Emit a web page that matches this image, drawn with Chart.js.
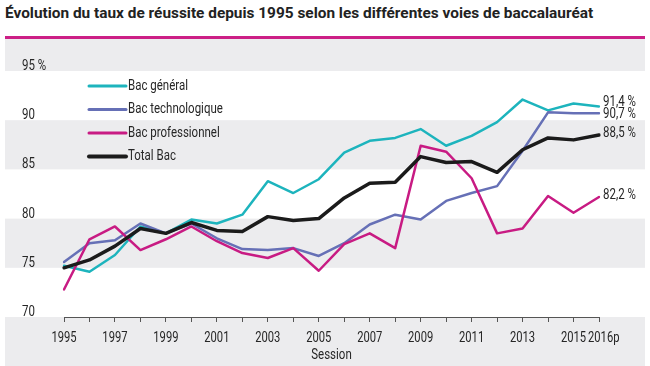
<!DOCTYPE html>
<html lang="fr">
<head>
<meta charset="utf-8">
<script src="https://cdn.jsdelivr.net/npm/chart.js@4/dist/chart.umd.min.js"></script>
<style>
  body { margin: 0; width: 650px; height: 366px; background: #fff; overflow: hidden; position: relative; }
  #title { position: absolute; left: 5px; top: 4px; font: bold 15.4px Roboto, "Liberation Sans", sans-serif; color: #222; white-space: nowrap; }
  #rule { position: absolute; left: 5px; top: 36px; width: 640px; height: 3px; background: #cc1f86; }
  #panel { position: absolute; left: 5px; top: 39px; width: 640px; height: 327px; background: #ececee; }
</style>
</head>
<body>
<div id="title">Évolution du taux de réussite depuis 1995 selon les différentes voies de baccalauréat</div>
<div id="rule"></div>
<div id="panel"><canvas id="chart" width="640" height="327"></canvas></div>
<script>
const sessions = ['1995', '1996', '1997', '1998', '1999', '2000', '2001', '2002', '2003', '2004', '2005',
	'2006', '2007', '2008', '2009', '2010', '2011', '2012', '2013', '2014', '2015', '2016p'];

const bacGeneral = [75.2, 74.6, 76.3, 79.2, 78.5, 79.9, 79.5, 80.4, 83.8, 82.6, 84.0,
	86.7, 87.9, 88.2, 89.1, 87.4, 88.4, 89.8, 92.1, 91.0, 91.7, 91.4];
const bacTechno = [75.6, 77.5, 77.8, 79.5, 78.5, 79.5, 78.0, 76.9, 76.8, 77.0, 76.2,
	77.5, 79.4, 80.4, 79.9, 81.8, 82.6, 83.3, 86.9, 90.8, 90.7, 90.7];
const bacPro = [72.8, 77.9, 79.2, 76.8, 77.9, 79.2, 77.7, 76.5, 76.0, 77.0, 74.7,
	77.4, 78.5, 77.0, 87.4, 86.8, 84.1, 78.5, 79.0, 82.3, 80.6, 82.2];
const totalBac = [75.0, 75.8, 77.2, 79.0, 78.5, 79.6, 78.8, 78.7, 80.2, 79.8, 80.0,
	82.1, 83.6, 83.7, 86.3, 85.7, 85.8, 84.7, 87.0, 88.2, 88.0, 88.5];

const seriesNames = ['Bac général', 'Bac technologique', 'Bac professionnel', 'Total Bac'];
const yTicks = [70, 75, 80, 85, 90, 95];
const xTitle = 'Session';

const textFont = '14px Roboto, sans-serif';
const textColor = '#262626';

const formatPct = (v) => v.toFixed(1).replace('.', ',') + ' %';

// texte étroit (la police condensée de l'original n'est pas disponible)
const narrowText = (ctx, text, x, y, align, sx = 0.82) => {
	ctx.save();
	ctx.translate(x, y);
	ctx.scale(sx, 1);
	ctx.textAlign = align;
	ctx.fillText(text, 0, 0);
	ctx.restore();
};

const decor = {
	id: 'decor',
	beforeDatasetsDraw(chart) {
		const {ctx, chartArea, scales: {x, y}} = chart;
		ctx.save();
		// bandes blanches
		ctx.fillStyle = '#ffffff';
		for (let i = 0; i < yTicks.length - 1; i += 2) {
			const top = y.getPixelForValue(yTicks[i + 1]);
			const bottom = y.getPixelForValue(yTicks[i]);
			ctx.fillRect(0, top, chart.width, bottom - top);
		}
		ctx.font = textFont;
		ctx.fillStyle = textColor;
		ctx.textBaseline = 'alphabetic';
		yTicks.forEach((v, i) => {
			const label = i === yTicks.length - 1 ? v + ' %' : String(v);
			narrowText(ctx, label, 17, y.getPixelForValue(v) - 1, 'left');
		});
		// libellés de l'axe X
		ctx.textBaseline = 'middle';
		const last = sessions.length - 1;
		x.ticks.forEach((t, i) => {
			const px = x.getPixelForTick(i);
			if (i === last) {
				narrowText(ctx, sessions[i], px - 11, chartArea.bottom + 21, 'left', 0.8);
			} else if (i % 2 === 0) {
				narrowText(ctx, sessions[i], px, chartArea.bottom + 21, 'center', 0.8);
			}
		});
		narrowText(ctx, xTitle, (chartArea.left + chartArea.right) / 2, chartArea.bottom + 38, 'center');
		ctx.restore();
	},
	afterDatasetsDraw(chart) {
		const {ctx, chartArea} = chart;
		ctx.save();
		ctx.font = textFont;
		ctx.textBaseline = 'middle';

		chart.data.datasets.forEach((ds, i) => {
			const ly = chartArea.top + 15 + i * 23.5;
			ctx.strokeStyle = ds.borderColor;
			ctx.lineWidth = ds.borderWidth + 0.5;
			ctx.lineCap = 'round';
			ctx.beginPath();
			ctx.moveTo(chartArea.left + 25, ly);
			ctx.lineTo(chartArea.left + 62, ly);
			ctx.stroke();
			ctx.fillStyle = textColor;
			narrowText(ctx, ds.label, chartArea.left + 64, ly, 'left');
		});

		// étiquettes de fin de courbe, écartées si elles se chevauchent
		const ends = chart.data.datasets.map((ds, i) => {
			const pt = chart.getDatasetMeta(i).data[ds.data.length - 1];
			return {x: pt.x, y: pt.y, text: formatPct(ds.data[ds.data.length - 1])};
		}).sort((a, b) => a.y - b.y);
		for (let i = 1; i < ends.length; i++) {
			const gap = ends[i].y - ends[i - 1].y;
			if (gap < 12) {
				const shift = (12 - gap) / 2;
				ends[i - 1].y -= shift;
				ends[i].y += shift;
			}
		}
		ctx.fillStyle = textColor;
		ends.forEach((e) => narrowText(ctx, e.text, e.x + 4, e.y - 1, 'left'));
		ctx.restore();
	}
};

const makeDataset = (label, data, color, width, order) => ({
	label,
	data,
	borderColor: color,
	backgroundColor: color,
	borderWidth: width,
	pointRadius: 0,
	tension: 0,
	borderJoinStyle: 'round',
	borderCapStyle: 'round',
	order
});

new Chart(document.getElementById('chart'), {
	type: 'line',
	data: {
		labels: sessions,
		datasets: [
			makeDataset(seriesNames[0], bacGeneral, '#1db4bd', 2.5, 3),
			makeDataset(seriesNames[1], bacTechno, '#6670b6', 2.5, 2),
			makeDataset(seriesNames[2], bacPro, '#c81b83', 2.5, 1),
			makeDataset(seriesNames[3], totalBac, '#1b1b1b', 3.5, 0)
		]
	},
	options: {
		responsive: false,
		animation: false,
		layout: {padding: {top: 32, right: 46, left: 0, bottom: 0}},
		plugins: {
			legend: {display: false},
			tooltip: {enabled: false}
		},
		scales: {
			x: {
				offset: false,
				afterFit: (s) => { s.height = 49; },
				grid: {display: true, drawOnChartArea: false, drawTicks: true, tickLength: 5, color: '#555', tickColor: '#555'},
				border: {display: true, color: '#555', width: 1},
				ticks: {display: false, autoSkip: false}
			},
			y: {
				min: 70,
				max: 95,
				afterFit: (s) => { s.width = 59; },
				grid: {display: false},
				border: {display: false},
				ticks: {display: false}
			}
		}
	},
	plugins: [decor]
});
</script>
</body>
</html>
